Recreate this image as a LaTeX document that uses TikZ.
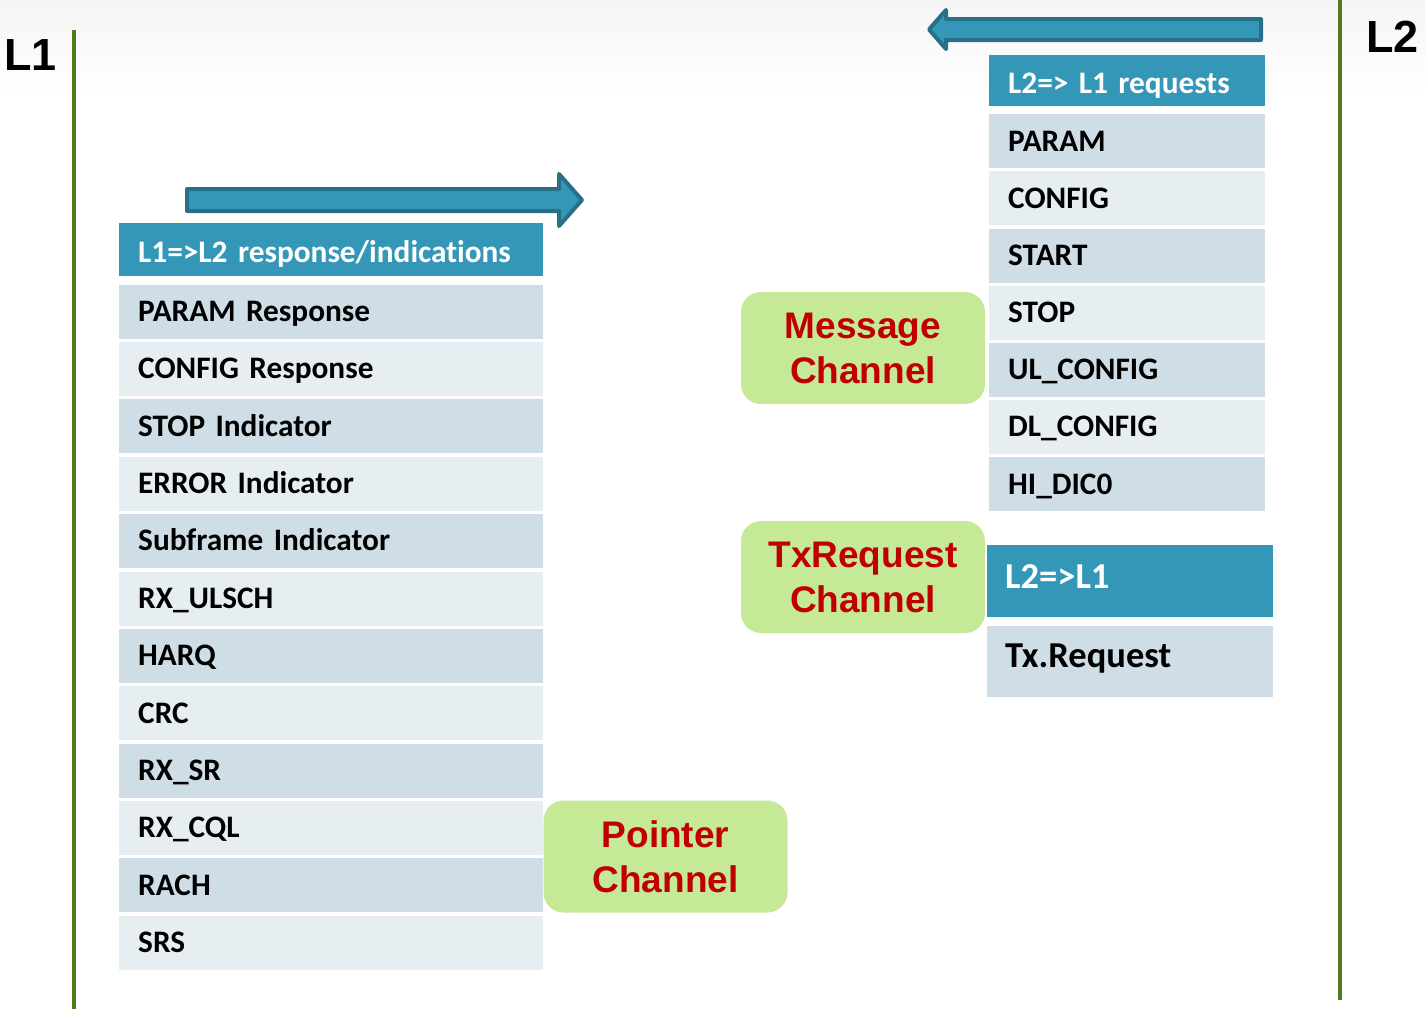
\documentclass[tikz,border=0pt]{standalone}
\usepackage{fontspec}
\newfontfamily\cellfont{Carlito}[Ligatures=NoCommon]
\newfontfamily\headfont{Liberation Sans}
\definecolor{hdrblue}{HTML}{3597B8}
\definecolor{arrowedge}{HTML}{2A6F88}
\definecolor{rowdark}{HTML}{CFDDE6}
\definecolor{rowlight}{HTML}{E7EEF2}
\definecolor{chanfill}{HTML}{C5E996}
\definecolor{chanred}{HTML}{C00000}
\definecolor{layergreen}{HTML}{4F7A1E}
\begin{document}
\begin{tikzpicture}[x=1pt,y=-1pt,
  cell/.style={rectangle, anchor=north west, inner xsep=19pt, inner ysep=0pt,
    minimum height=#1, text height=19.6pt, text depth=0pt, align=left,
    font=\cellfont\bfseries\fontsize{31.3}{31.3}\selectfont},
  hdrshift/.style={text height=25pt},
  bigcell/.style={rectangle, anchor=north west, inner xsep=18pt, inner ysep=0pt,
    minimum height=#1, text height=23pt, align=left, text width=250pt,
    font=\cellfont\bfseries\fontsize{36.5}{36.5}\selectfont},
  chan/.style={rectangle, rounded corners=20pt, fill=chanfill, minimum width=244pt,
    minimum height=112pt, align=center, text=chanred, inner sep=0pt,
    font=\headfont\bfseries\fontsize{37}{45}\selectfont},
  blockarrow/.style={fill=hdrblue, draw=arrowedge, line width=4pt, line join=round},
  layerline/.style={draw=layergreen, line width=4.5pt},
  layerlabel/.style={anchor=base west, inner sep=0pt,
    font=\headfont\bfseries\fontsize{45}{45}\selectfont}]

\useasboundingbox (0,0) rectangle (1425,1009);
% faint grey band along the top edge
\shade[top color=black!4, bottom color=white] (0,0) rectangle (1425,95);

% layer boundaries
\coordinate (l1top) at (74,30);
\coordinate (l1bot) at (74,1009);
\coordinate (l2top) at (1340,0);
\coordinate (l2bot) at (1340,1000);
\draw[layerline] (l1top) -- (l1bot);
\draw[layerline] (l2top) -- (l2bot);
\node[layerlabel] (l1lab) at (4,70) {L1};
\node[layerlabel] (l2lab) at (1366,52) {L2};

% direction arrows
\draw[blockarrow] (1261,19) -- (946,19) -- (946,10) -- (929,29.5) -- (946,49)
  -- (946,40) -- (1261,40) -- cycle;
\draw[blockarrow] (187,189) -- (559,189) -- (559,174) -- (582,200) -- (559,226)
  -- (559,211) -- (187,211) -- cycle;

% L1 => L2 list
\node[cell=53pt, hdrshift, fill=hdrblue, text=white, text width=386pt] (lhead) at (119,223)
  {L1=>L2 response/indications};
\foreach \txt [count=\i from 0] in {PARAM Response, CONFIG Response, STOP Indicator,
    ERROR Indicator, Subframe Indicator, RX\_ULSCH, HARQ, CRC, RX\_SR, RX\_CQL, RACH, SRS}{
  \ifodd\i \def\rowcol{rowlight}\else \def\rowcol{rowdark}\fi
  \node[cell=54pt, fill=\rowcol, text width=386pt] (lrow\i) at (119,{284.5+57.36*\i}) {\txt};
}

% L2 => L1 request list
\node[cell=51pt, hdrshift, fill=hdrblue, text=white, text width=238pt] (rhead) at (989,55)
  {L2=> L1 requests};
\foreach \txt [count=\i from 0] in {PARAM, CONFIG, START, STOP, UL\_CONFIG, DL\_CONFIG, HI\_DIC0}{
  \ifodd\i \def\rowcol{rowlight}\else \def\rowcol{rowdark}\fi
  \node[cell=54pt, fill=\rowcol, text width=238pt] (rrow\i) at (989,{114+57.17*\i}) {\txt};
}

% L2 => L1 transmit request
\node[bigcell=72pt, text depth=8pt, fill=hdrblue, text=white] (txhead) at (987,545) {L2=>L1};
\node[bigcell=71pt, text depth=12pt, fill=rowdark] (txrow) at (987,626) {Tx.Request};

% channel labels
\node[chan] (msgchan) at (863,348) {Message\\Channel};
\node[chan] (txchan) at (863,577) {TxRequest\\Channel};
\node[chan] (ptrchan) at (665.5,856.5) {Pointer\\Channel};
\end{tikzpicture}
\end{document}
